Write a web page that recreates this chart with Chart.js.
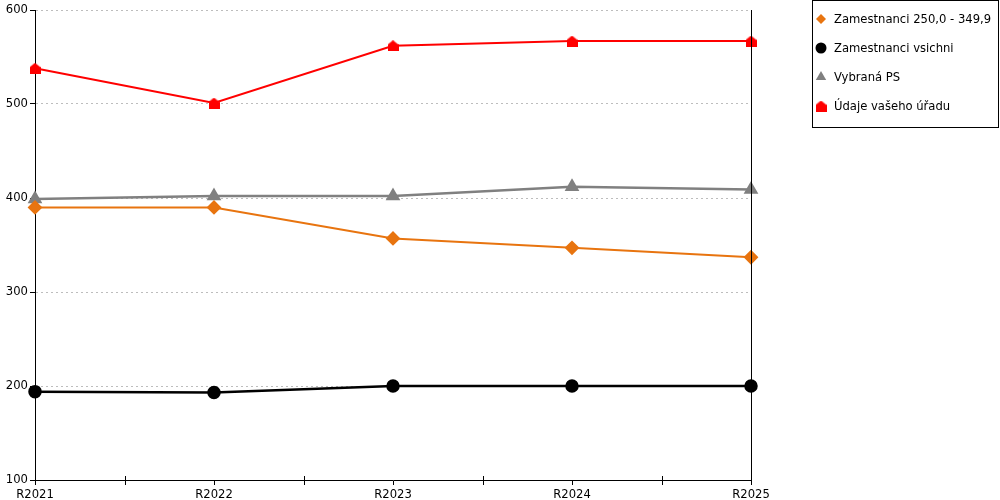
<!DOCTYPE html>
<html>
<head>
<meta charset="utf-8">
<script src="https://cdn.jsdelivr.net/npm/chart.js@4.4.1/dist/chart.umd.min.js"></script>
<style>
  body { margin: 0; background: #fff; }
  #wrap { width: 1000px; height: 500px; }
</style>
</head>
<body>
<div id="wrap"><canvas id="myChart"></canvas></div>
<script>
const years = ["R2021", "R2022", "R2023", "R2024", "R2025"];
const zam250 = [390, 390, 357, 347, 337];
const zamVsichni = [194, 193, 200, 200, 200];
const vybranaPS = [399, 402, 402, 412, 409];
const vasUrad = [538, 501, 562, 567, 567];
const yTicks = [100, 200, 300, 400, 500, 600];

// house shaped marker for "Údaje vašeho úřadu"
function houseMarker(size, color) {
  const c = document.createElement("canvas");
  c.width = size; c.height = size;
  const g = c.getContext("2d");
  g.fillStyle = color;
  g.beginPath();
  g.moveTo(size / 2, 0);
  g.lineTo(size, size * 0.4);
  g.lineTo(size, size);
  g.lineTo(0, size);
  g.lineTo(0, size * 0.4);
  g.closePath();
  g.fill();
  return c;
}
const house = houseMarker(11, "#ff0000");

const FONT = "'DejaVu Sans', Verdana, sans-serif";
const FSIZE = 11.6;

// boxed legend on the right, plus right border and minor x ticks
const extras = {
  id: "extras",
  afterDraw(chart) {
    const ctx = chart.ctx;
    const a = chart.chartArea;
    ctx.save();
    ctx.strokeStyle = "#000";
    ctx.lineWidth = 1;
    // right border of plot
    ctx.beginPath();
    ctx.moveTo(Math.round(a.right) + 0.5, a.top);
    ctx.lineTo(Math.round(a.right) + 0.5, a.bottom);
    ctx.stroke();
    // minor ticks between categories
    const xs = chart.scales.x;
    for (let i = 0; i < years.length - 1; i++) {
      const m = Math.round((xs.getPixelForValue(i) + xs.getPixelForValue(i + 1)) / 2) + 0.5;
      ctx.beginPath();
      ctx.moveTo(m, a.bottom - 4);
      ctx.lineTo(m, a.bottom + 5);
      ctx.stroke();
    }
    // legend
    ctx.strokeRect(812.5, 0.5, 186, 127);
    ctx.font = FSIZE + "px " + FONT;
    ctx.textBaseline = "middle";
    chart.data.datasets.forEach((ds, i) => {
      const y = 19 + i * 29;
      ctx.fillStyle = ds.pointBackgroundColor;
      ctx.strokeStyle = ds.pointBackgroundColor;
      ctx.beginPath();
      Chart.helpers.drawPoint(ctx, {
        pointStyle: ds.pointStyle,
        radius: ds.legendRadius,
        rotation: 0,
        borderWidth: 0
      }, 821, y);
      ctx.fillStyle = "#000";
      ctx.fillText(ds.label, 834, y + 1);
    });
    ctx.restore();
  }
};

new Chart("myChart", {
  type: "line",
  data: {
    labels: years,
    datasets: [{
      label: "Zamestnanci 250,0 - 349,9",
      data: zam250,
      borderColor: "#e8740f",
      backgroundColor: "#e8740f",
      pointBackgroundColor: "#e8740f",
      pointBorderColor: "#e8740f",
      borderWidth: 2,
      pointStyle: "rectRot",
      pointRadius: 6,
      legendRadius: 5,
      fill: false
    }, {
      label: "Zamestnanci vsichni",
      data: zamVsichni,
      borderColor: "#000",
      backgroundColor: "#000",
      pointBackgroundColor: "#000",
      pointBorderColor: "#000",
      borderWidth: 2.5,
      pointStyle: "circle",
      pointRadius: 5.5,
      legendRadius: 5.5,
      fill: false
    }, {
      label: "Vybraná PS",
      data: vybranaPS,
      borderColor: "#808080",
      backgroundColor: "#808080",
      pointBackgroundColor: "#808080",
      pointBorderColor: "#808080",
      borderWidth: 2.5,
      pointStyle: "triangle",
      pointRadius: 6,
      legendRadius: 6,
      fill: false
    }, {
      label: "Údaje vašeho úřadu",
      data: vasUrad,
      borderColor: "#ff0000",
      backgroundColor: "#ff0000",
      pointBackgroundColor: "#ff0000",
      pointBorderColor: "#ff0000",
      borderWidth: 2,
      pointStyle: house,
      pointRadius: 6,
      legendRadius: 6,
      fill: false
    }]
  },
  options: {
    responsive: true,
    maintainAspectRatio: false,
    animation: false,
    layout: { padding: { top: 10, right: 249, left: 0, bottom: 0 } },
    plugins: {
      legend: { display: false },
      tooltip: { enabled: false }
    },
    scales: {
      x: {
        offset: false,
        afterFit: s => { s.height = 20; },
        border: { color: "#000", width: 1 },
        grid: { drawOnChartArea: false, color: "#000", tickLength: 5 },
        ticks: {
          color: "#000",
          padding: 3,
          maxRotation: 0,
          font: { family: FONT, size: FSIZE }
        }
      },
      y: {
        min: 100,
        max: 600,
        afterFit: s => { s.width = 35; },
        afterBuildTicks: s => { s.ticks = yTicks.map(v => ({ value: v })); },
        border: { color: "#000", width: 1, dash: [2, 3] },
        grid: {
          color: ctx => ctx.tick && ctx.tick.value === 100 ? "rgba(0,0,0,0)" : "#bdbdbd",
          lineWidth: 1,
          tickColor: "#000",
          tickLength: 5,
          tickBorderDash: [],
        },
        ticks: {
          color: "#000",
          padding: 2,
          font: { family: FONT, size: FSIZE }
        }
      }
    }
  },
  plugins: [extras]
});
</script>
</body>
</html>
